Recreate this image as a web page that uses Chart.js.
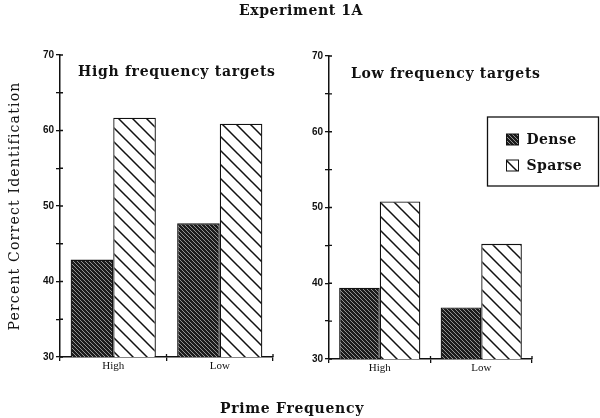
<!DOCTYPE html>
<html>
<head>
<meta charset="utf-8">
<script src="https://cdn.jsdelivr.net/npm/chart.js@4.4.1/dist/chart.umd.min.js"></script>
<style>
  html, body { margin: 0; padding: 0; background: #fff; }
  #wrap { position: relative; width: 600px; height: 418px; overflow: hidden; background: #fff; }
  canvas { position: absolute; }
  .txt { position: absolute; font-family: "DejaVu Serif", serif; color: #111; white-space: nowrap; line-height: 1; }
</style>
</head>
<body>
<div id="wrap">
  <canvas id="left" style="left:0px;top:0px;width:300px;height:418px" width="300" height="418"></canvas>
  <canvas id="right" style="left:290px;top:0px;width:310px;height:418px" width="310" height="418"></canvas>
  <div class="txt" id="mainTitle" style="left:0;width:602px;text-align:center;top:3px;font-size:14px;font-weight:bold;letter-spacing:0.6px;"></div>
  <div class="txt" id="t1" style="left:78px;top:64px;font-size:14px;font-weight:bold;letter-spacing:0.7px;"></div>
  <div class="txt" id="t2" style="left:351px;top:66px;font-size:14px;font-weight:bold;letter-spacing:0.7px;"></div>
  <div class="txt" id="xTitle" style="left:0;width:584px;text-align:center;top:401px;font-size:14px;font-weight:bold;letter-spacing:0.7px;"></div>
  <div class="txt" id="yTitle" style="left:-136px;top:199px;width:300px;text-align:center;font-size:14px;letter-spacing:1.2px;transform:rotate(-90deg);transform-origin:50% 50%;"></div>
</div>
<script>
// ---- data ----
const categories = ['High', 'Low'];
const seriesNames = ['Dense', 'Sparse'];
const highTargetsDense = [42.9, 47.7];
const highTargetsSparse = [61.7, 60.9];
const lowTargetsDense = [39.4, 36.8];
const lowTargetsSparse = [50.8, 45.2];
const yMin = 30, yMax = 70, yStep = 5, yLabelStep = 10;
const mainTitle = 'Experiment 1A';
const panelTitles = ['High frequency targets', 'Low frequency targets'];
const yAxisTitle = 'Percent Correct Identification';
const xAxisTitle = 'Prime Frequency';

document.getElementById('mainTitle').textContent = mainTitle;
document.getElementById('t1').textContent = panelTitles[0];
document.getElementById('t2').textContent = panelTitles[1];
document.getElementById('xTitle').textContent = xAxisTitle;
document.getElementById('yTitle').textContent = yAxisTitle;

// ---- patterns ----
function densePattern() {
  const c = document.createElement('canvas');
  c.width = 4; c.height = 4;
  const g = c.getContext('2d');
  g.fillStyle = '#1c1c1c';
  g.fillRect(0, 0, 4, 4);
  g.strokeStyle = '#a0a0a0';
  g.lineWidth = 0.9;
  g.beginPath();
  g.moveTo(-1, -1); g.lineTo(5, 5);
  g.moveTo(-5, -1); g.lineTo(1, 5);
  g.moveTo(3, -1); g.lineTo(9, 5);
  g.stroke();
  return document.createElement('canvas').getContext('2d').createPattern(c, 'repeat');
}
function sparsePattern() {
  const s = 14;
  const c = document.createElement('canvas');
  c.width = s; c.height = s;
  const g = c.getContext('2d');
  g.fillStyle = '#fff';
  g.fillRect(0, 0, s, s);
  g.strokeStyle = '#111';
  g.lineWidth = 1.5;
  g.beginPath();
  g.moveTo(-1, -1); g.lineTo(s + 1, s + 1);
  g.moveTo(-s - 1, -1); g.lineTo(1, s + 1);
  g.moveTo(s - 1, -1); g.lineTo(2 * s + 1, s + 1);
  g.stroke();
  return document.createElement('canvas').getContext('2d').createPattern(c, 'repeat');
}
const dPat = densePattern();
const sPat = sparsePattern();

function datasets(dense, sparse) {
  return [
    { label: seriesNames[0], data: dense, backgroundColor: dPat, borderColor: '#111', borderWidth: 1.3, borderSkipped: 'bottom', categoryPercentage: 0.8, barPercentage: 1.0 },
    { label: seriesNames[1], data: sparse, backgroundColor: sPat, borderColor: '#111', borderWidth: 1.3, borderSkipped: 'bottom', categoryPercentage: 0.8, barPercentage: 1.0 }
  ];
}

// inner halves of the tick marks (ticks cross the axis lines)
const crossTicks = {
  id: 'crossTicks',
  afterDraw(chart) {
    const ctx = chart.ctx;
    const xs = chart.scales.x, ys = chart.scales.y;
    ctx.save();
    ctx.strokeStyle = '#111';
    ctx.lineWidth = 1.3;
    ctx.beginPath();
    ys.ticks.forEach((t, i) => {
      const y = ys.getPixelForTick(i);
      ctx.moveTo(xs.left, y); ctx.lineTo(xs.left + 3, y);
    });
    for (let i = 1; i <= xs.ticks.length; i++) {
      const x = xs.getPixelForValue(i - 0.5);
      ctx.moveTo(x, ys.bottom); ctx.lineTo(x, ys.bottom - 3);
    }
    ctx.stroke();
    ctx.restore();
  }
};

// legend box drawn inside the right panel
const legendBox = {
  id: 'legendBox',
  afterDraw(chart, args, opts) {
    if (!opts || !opts.show) return;
    const ctx = chart.ctx;
    ctx.save();
    ctx.strokeStyle = '#111';
    ctx.lineWidth = 1.3;
    ctx.strokeRect(opts.x, opts.y, opts.w, opts.h);
    ctx.font = 'bold 14px "DejaVu Serif", serif';
    if ('letterSpacing' in ctx) ctx.letterSpacing = '0.4px';
    ctx.textBaseline = 'middle';
    chart.data.datasets.forEach((ds, i) => {
      const sy = opts.y + 17 + i * 26;
      ctx.fillStyle = ds.backgroundColor;
      ctx.fillRect(opts.x + 19, sy, 12, 11);
      ctx.strokeStyle = '#111';
      ctx.lineWidth = 1;
      ctx.strokeRect(opts.x + 19, sy, 12, 11);
      ctx.fillStyle = '#111';
      ctx.fillText(ds.label, opts.x + 39, sy + 6);
    });
    ctx.restore();
  }
};

function makeChart(id, dense, sparse, cfg) {
  return new Chart(document.getElementById(id), {
    type: 'bar',
    data: { labels: categories, datasets: datasets(dense, sparse) },
    plugins: [legendBox, crossTicks],
    options: {
      responsive: false,
      animation: false,
      events: [],
      layout: { padding: cfg.padding },
      plugins: {
        legend: { display: false },
        tooltip: { enabled: false },
        legendBox: cfg.legend
      },
      scales: {
        x: {
          grid: { display: true, drawOnChartArea: false, offset: true, tickLength: 4, color: '#111', lineWidth: 1.3 },
          border: { display: true, color: '#111', width: 1.5 },
          ticks: { color: '#111', padding: -1, font: { family: '"Liberation Serif", serif', size: 11 } },
          afterFit(s) { s.height = 20; }
        },
        y: {
          min: yMin, max: yMax,
          grid: { display: true, drawOnChartArea: false, tickLength: 4, color: '#111', lineWidth: 1.3 },
          border: { display: true, color: '#111', width: 1.5 },
          ticks: {
            stepSize: yStep, autoSkip: false, padding: 2, color: '#111',
            font: { family: '"Liberation Sans", sans-serif', size: 10, weight: 'bold' },
            callback: (v) => (v % yLabelStep === 0 ? String(v) : '')
          },
          afterFit(s) { s.width = cfg.yWidth; }
        }
      }
    }
  });
}

makeChart('left', highTargetsDense, highTargetsSparse, {
  padding: { left: 0, top: 55, right: 27, bottom: 41 },
  yWidth: 60,
  legend: { show: false }
});
makeChart('right', lowTargetsDense, lowTargetsSparse, {
  padding: { left: 0, top: 56, right: 68, bottom: 39 },
  yWidth: 39,
  legend: { show: true, x: 197.5, y: 117, w: 111, h: 69 }
});
</script>
</body>
</html>
